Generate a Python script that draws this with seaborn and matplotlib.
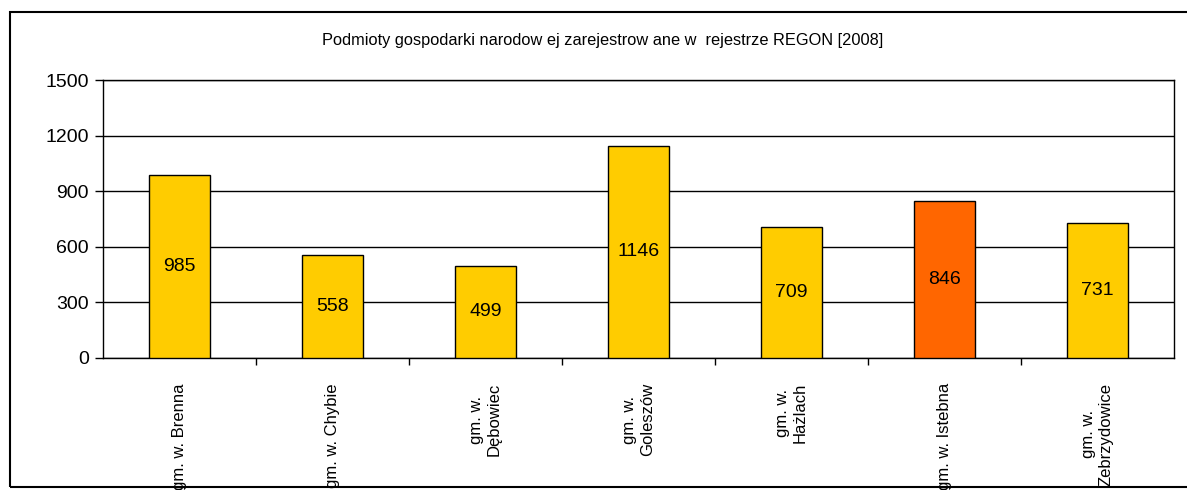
import matplotlib
matplotlib.use("Agg")
import matplotlib.pyplot as plt
import matplotlib.patches as patches
import seaborn as sns
import pandas as pd

title = "Podmioty gospodarki narodow ej zarejestrow ane w  rejestrze REGON [2008]"
gminy = ["gm. w. Brenna", "gm. w. Chybie", "gm. w.\nDębowiec", "gm. w.\nGoleszów",
         "gm. w.\nHażlach", "gm. w. Istebna", "gm. w.\nZebrzydowice"]
values = [985, 558, 499, 1146, 709, 846, 731]
colors = ["#FFCC00", "#FFCC00", "#FFCC00", "#FFCC00", "#FFCC00", "#FF6600", "#FFCC00"]
yticks = [0, 300, 600, 900, 1200, 1500]

df = pd.DataFrame({"gmina": gminy, "value": values})

sns.set_style("white")
plt.rcParams["font.family"] = ["Liberation Sans", "DejaVu Sans"]
plt.rcParams["text.color"] = "black"
plt.rcParams["xtick.color"] = "black"
plt.rcParams["ytick.color"] = "black"

fig = plt.figure(figsize=(11.87, 4.9), dpi=100)
ax = fig.add_axes([103 / 1187, 1 - 358 / 490, (1174 - 103) / 1187, (358 - 80) / 490])

sns.barplot(data=df, x="gmina", y="value", hue="gmina", palette=colors, legend=False,
            width=0.4, edgecolor="black", linewidth=1, saturation=1, ax=ax, zorder=3)

for c in ax.containers:
    ax.bar_label(c, label_type="center", fontsize=14, color="black")

ax.set_ylim(0, 1500)
ax.set_yticks(yticks)
ax.set_xlim(-0.5, len(gminy) - 0.5)
ax.grid(axis="y", color="black", linewidth=1, zorder=0)
ax.set_xlabel("")
ax.set_ylabel("")

for s in ["left", "bottom", "right", "top"]:
    ax.spines[s].set_visible(True)
    ax.spines[s].set_color("black")
    ax.spines[s].set_linewidth(1)

ax.tick_params(axis="y", which="major", direction="out", length=6, width=1,
               left=True, labelsize=14, pad=4, color="black", labelcolor="black")
ax.set_xticks(range(len(gminy)))
ax.set_xticklabels(gminy, rotation=90, fontsize=12, va="top", ha="center",
                   multialignment="center", color="black")
ax.tick_params(axis="x", which="major", length=0, pad=18)
ax.set_xticks([i + 0.5 for i in range(len(gminy) - 1)], minor=True)
ax.tick_params(axis="x", which="minor", direction="out", length=5, width=1,
               bottom=True, color="black")

fig.text(603 / 1187, 1 - 40 / 490, title, ha="center", va="center", fontsize=11.8,
         color="black")

border = patches.Rectangle((10 / 1187, 1 - 487 / 490), 1.0, (487 - 12) / 490,
                           transform=fig.transFigure, fill=False, edgecolor="black",
                           linewidth=1.5, clip_on=False)
fig.patches.append(border)

fig.savefig("out.png", dpi=100)
